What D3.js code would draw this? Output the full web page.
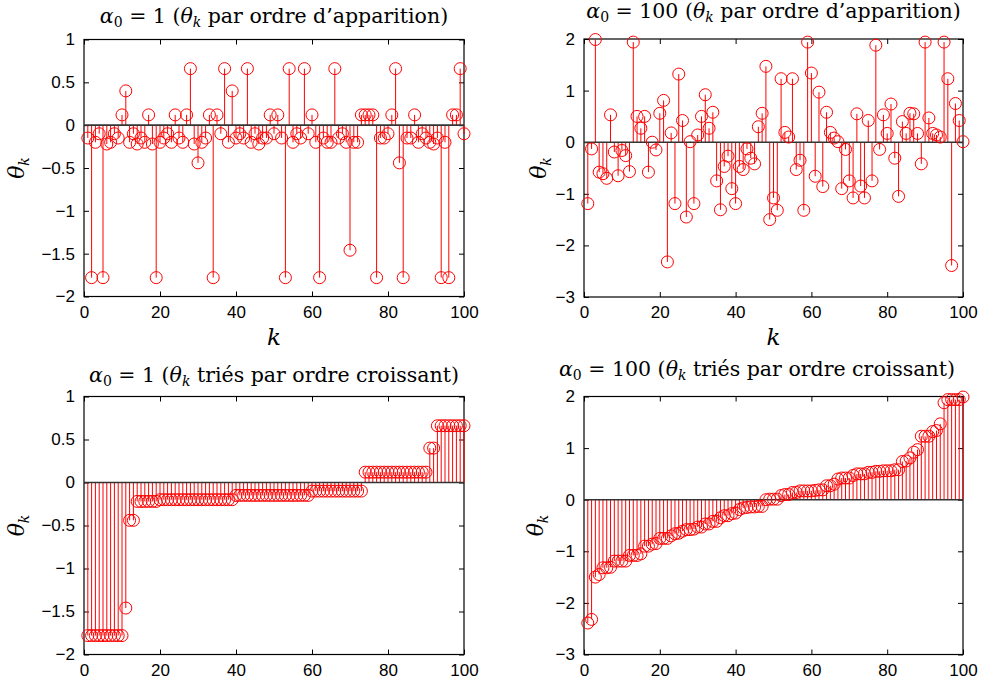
<!DOCTYPE html>
<html>
<head>
<meta charset="utf-8">
<script src="https://cdn.jsdelivr.net/npm/d3@7/dist/d3.min.js"></script>
<style>
  html, body { margin: 0; padding: 0; background: #fff; }
  svg { display: block; }
</style>
</head>
<body>
<svg id="chart" width="982" height="686"></svg>
<script>
// ---- Data ----
// theta_k for alpha0 = 1, in order of appearance (k = 1..100)
const thetaAlpha1 = [
  -0.15, -1.78, -0.2, -0.1, -1.78, -0.22, -0.2, -0.1, -0.15, 0.12,
   0.4, -0.2, -0.1, -0.22, -0.15, -0.2, 0.12, -0.22, -1.78, -0.2,
  -0.15, -0.1, -0.2, 0.12, -0.15, -0.2, 0.12, 0.66, -0.22, -0.44,
  -0.2, -0.15, 0.12, -1.78, 0.12, -0.1, 0.66, -0.2, 0.4, -0.15,
  -0.1, -0.15, 0.66, -0.2, -0.1, -0.22, -0.15, -0.15, 0.12, -0.1,
   0.12, -0.15, -1.78, 0.66, -0.2, -0.1, -0.15, 0.66, -0.1, 0.12,
  -0.2, -1.78, -0.15, -0.2, -0.2, 0.66, -0.15, -0.1, -0.2, -1.46,
  -0.2, -0.2, 0.12, 0.12, 0.12, 0.12, -1.78, -0.15, -0.15, -0.1,
   0.12, 0.66, -0.44, -1.78, -0.15, -0.15, 0.12, -0.2, -0.1, -0.15,
  -0.2, -0.22, -0.15, -1.78, -0.2, -1.78, 0.12, 0.12, 0.66, -0.1
];
// theta_k for alpha0 = 100, in order of appearance (k = 1..100)
const thetaAlpha100 = [
  -1.19, -0.13, 1.99, -0.58, -0.61, -0.70, 0.53, -0.19, -0.65, -0.16,
  -0.26, -0.57, 1.94, 0.50, 0.27, 0.50, -0.58, 0.0, -0.15, 0.56,
   0.81, -2.32, 0.18, -1.19, 1.32, 0.42, -1.45, 0.01, -1.19, 0.14,
   0.50, 0.92, 0.27, 0.58, -0.75, -1.31, -0.47, -0.27, -0.90, -1.19,
  -0.47, -0.53, -0.13, -0.31, -0.42, 0.30, 0.56, 1.47, -1.50, -1.08,
  -1.32, 1.23, 0.19, 0.10, 1.23, -0.53, -0.35, -1.32, 1.94, 1.34,
  -0.66, 0.97, -0.86, 0.58, 0.19, 0.08, 0.01, -0.90, -0.14, -0.75,
  -1.08, 0.55, -0.85, -1.08, 0.42, -0.75, 1.88, -0.14, 0.53, 0.17,
   0.74, -0.31, -1.05, 0.40, 0.17, 0.56, 0.55, 0.17, -0.42, 1.94,
   0.47, 0.17, 0.14, 0.10, 1.94, 1.23, -2.39, 0.75, 0.42, 0.01
];
const xTicks = [0, 20, 40, 60, 80, 100];
const yTicksAlpha1 = [1, 0.5, 0, -0.5, -1, -1.5, -2];
const yTicksAlpha100 = [2, 1, 0, -1, -2, -3];
const alphaLabels = ["1", "100"];
const titleSuffixes = ["par ordre d\u2019apparition)", "tri\u00e9s par ordre croissant)"];

// ---- Drawing ----
const svg = d3.select("#chart");
const tickFont = "'Liberation Sans', Arial, Helvetica, sans-serif";
const mathFont = "'DejaVu Serif', 'Liberation Serif', serif";

function panel(opts) {
  const { left, right, top, bottom, data, yDomain, yTicks,
          alpha, suffix, titleX, titleY, yLabelX, showK } = opts;
  const x = d3.scaleLinear().domain([0, 100]).range([left, right]);
  const y = d3.scaleLinear().domain(yDomain).range([bottom, top]);
  const g = svg.append("g");

  // box
  g.append("rect").attr("x", left).attr("y", top)
    .attr("width", right - left).attr("height", bottom - top)
    .attr("fill", "none").attr("stroke", "#000").attr("stroke-width", 1.2);

  // axes (ticks inside, all four sides)
  const bottomAxis = d3.axisBottom(x).tickValues(xTicks).tickSize(-5).tickPadding(9)
    .tickFormat(d3.format("d"));
  const topAxis = d3.axisTop(x).tickValues(xTicks).tickSize(-5).tickFormat("");
  const leftAxis = d3.axisLeft(y).tickValues(yTicks).tickSize(-5).tickPadding(9)
    .tickFormat(d => d3.format("")(d));
  const rightAxis = d3.axisRight(y).tickValues(yTicks).tickSize(-5).tickFormat("");

  [[bottomAxis, `translate(0,${bottom})`], [topAxis, `translate(0,${top})`],
   [leftAxis, `translate(${left},0)`], [rightAxis, `translate(${right},0)`]]
  .forEach(([ax, tr]) => {
    const a = g.append("g").attr("transform", tr).call(ax);
    a.select(".domain").remove();
    a.selectAll(".tick line").attr("stroke", "#000").attr("stroke-width", 1);
    a.selectAll(".tick text").attr("font-family", tickFont)
      .attr("font-size", 17).attr("fill", "#000");
  });

  const ks = data.map((d, i) => i + 1);

  // stems
  g.append("g").selectAll("line").data(data).join("line")
    .attr("x1", (d, i) => x(ks[i])).attr("x2", (d, i) => x(ks[i]))
    .attr("y1", y(0)).attr("y2", d => y(d))
    .attr("stroke", "#ff0000").attr("stroke-width", 1);

  // baseline
  g.append("line").attr("x1", left).attr("x2", right)
    .attr("y1", y(0)).attr("y2", y(0))
    .attr("stroke", "#333").attr("stroke-width", 1.6);

  // markers
  g.append("g").selectAll("circle").data(data).join("circle")
    .attr("cx", (d, i) => x(ks[i])).attr("cy", d => y(d)).attr("r", 6)
    .attr("fill", "none").attr("stroke", "#ff0000").attr("stroke-width", 1);

  // title
  const t = g.append("text").attr("x", titleX != null ? titleX : (left + right) / 2)
    .attr("y", titleY)
    .attr("text-anchor", "middle").attr("font-family", mathFont)
    .attr("font-size", 20.5).attr("fill", "#000");
  t.append("tspan").attr("font-style", "italic").text("\u03b1");
  t.append("tspan").attr("font-size", 14).attr("dy", 4).text("0");
  t.append("tspan").attr("dy", -4).text(` = ${alpha} (`);
  t.append("tspan").attr("font-style", "italic").text("\u03b8");
  t.append("tspan").attr("font-style", "italic").attr("font-size", 14).attr("dy", 4).text("k");
  t.append("tspan").attr("dy", -4).text(" " + suffix);

  // y label
  const cy = (top + bottom) / 2;
  const yl = g.append("text")
    .attr("transform", `translate(${yLabelX},${cy}) rotate(-90)`)
    .attr("text-anchor", "middle").attr("font-family", mathFont)
    .attr("font-size", 22).attr("font-style", "italic").attr("fill", "#000");
  yl.append("tspan").text("\u03b8");
  yl.append("tspan").attr("font-size", 14).attr("dy", 5).text("k");

  if (showK) {
    g.append("text").attr("x", (left + right) / 2).attr("y", bottom + 48)
      .attr("text-anchor", "middle").attr("font-family", mathFont)
      .attr("font-size", 23).attr("font-style", "italic").attr("fill", "#000")
      .text("k");
  }
}

const sortedAlpha1 = thetaAlpha1.slice().sort(d3.ascending);
const sortedAlpha100 = thetaAlpha100.slice().sort(d3.ascending);

panel({ left: 84, right: 464, top: 39.5, bottom: 296.5, data: thetaAlpha1,
        yDomain: [-2, 1], yTicks: yTicksAlpha1, alpha: alphaLabels[0],
        suffix: titleSuffixes[0], titleY: 23, yLabelX: 24, showK: true });
panel({ left: 584, right: 963, top: 39, bottom: 297, data: thetaAlpha100,
        yDomain: [-3, 2], yTicks: yTicksAlpha100, alpha: alphaLabels[1],
        suffix: titleSuffixes[0], titleY: 18, yLabelX: 546, showK: true });
panel({ left: 84, right: 464, top: 396.5, bottom: 654.5, data: sortedAlpha1,
        yDomain: [-2, 1], yTicks: yTicksAlpha1, alpha: alphaLabels[0],
        suffix: titleSuffixes[1], titleY: 382, yLabelX: 24, showK: false });
panel({ left: 584, right: 963, top: 396.5, bottom: 654.5, data: sortedAlpha100,
        yDomain: [-3, 2], yTicks: yTicksAlpha100, alpha: alphaLabels[1],
        suffix: titleSuffixes[1], titleX: 757, titleY: 376, yLabelX: 543, showK: false });
</script>
</body>
</html>
